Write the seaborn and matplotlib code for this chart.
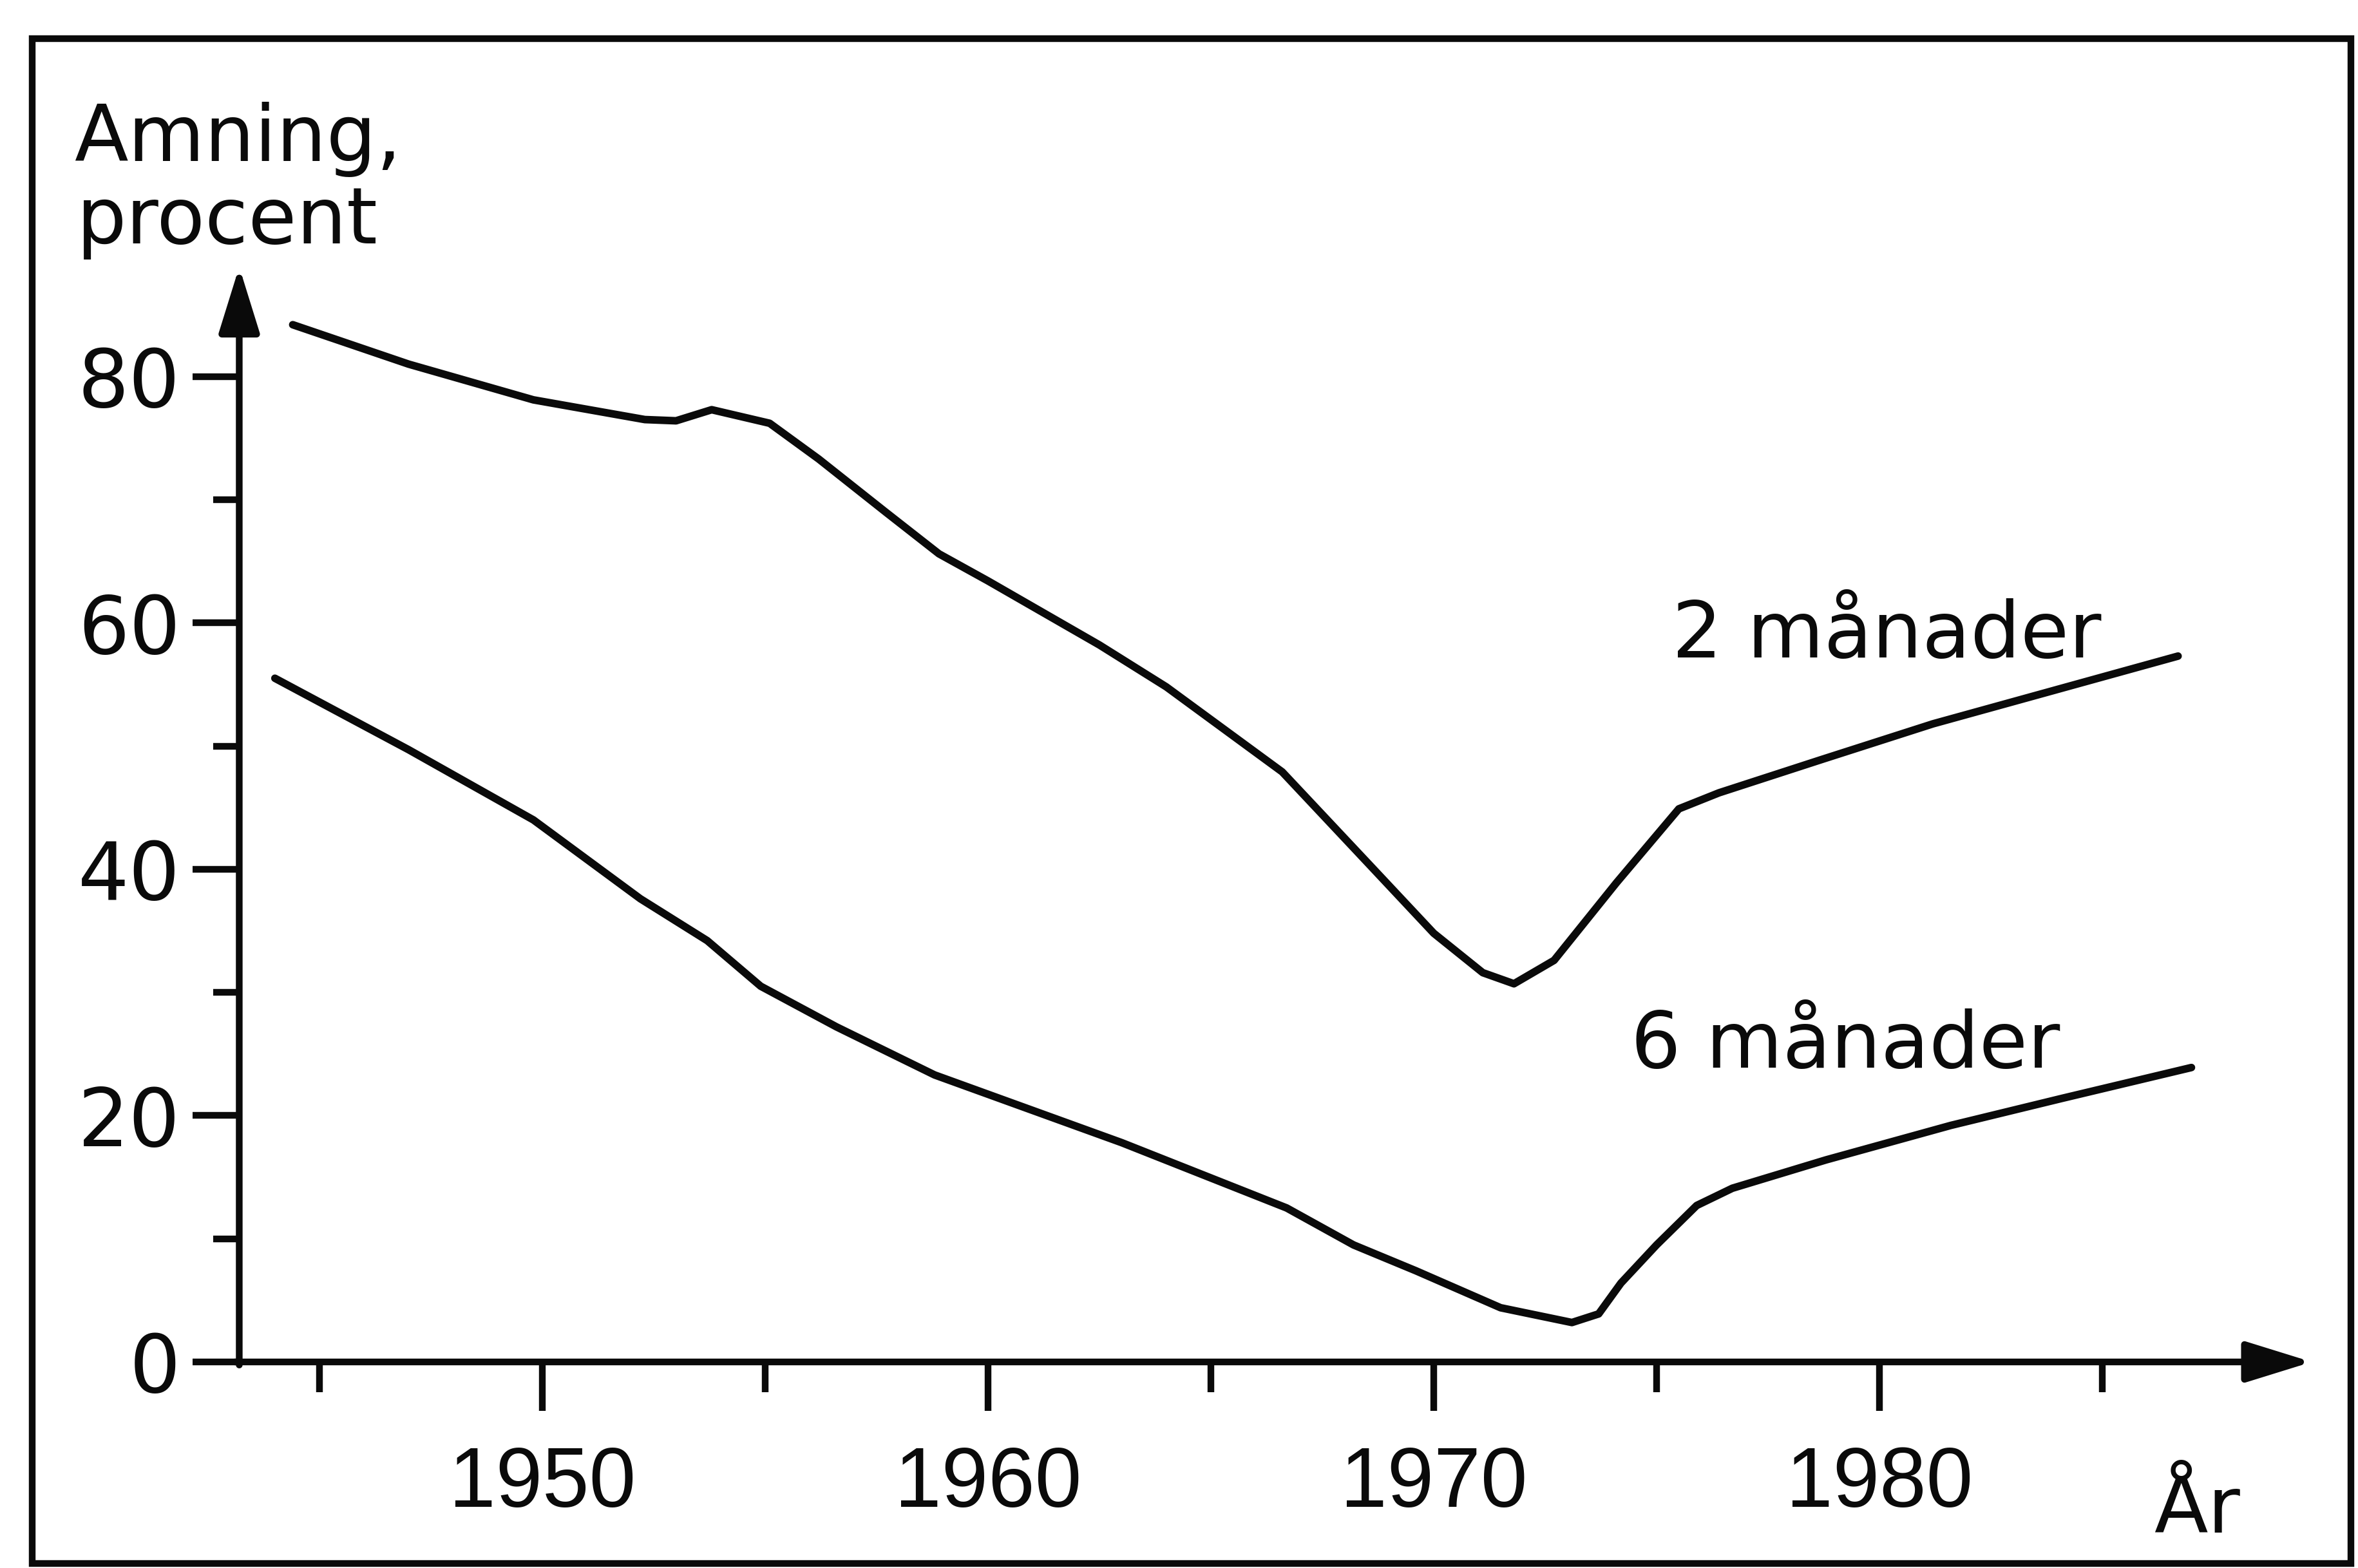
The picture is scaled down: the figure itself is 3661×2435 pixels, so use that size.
import matplotlib
matplotlib.use("Agg")
import matplotlib.pyplot as plt
import seaborn as sns
import pandas as pd
from matplotlib.patches import Rectangle

# ---------------- data ----------------
years_2m = [1944.4, 1947.0, 1949.8, 1952.3, 1953.0, 1953.8, 1955.1, 1956.2, 1957.7,
            1958.9, 1960.0, 1962.5, 1964.0, 1966.6, 1968.6, 1970.0, 1971.1, 1971.8,
            1972.7, 1974.1, 1975.5, 1976.4, 1978.7, 1981.2, 1986.7]
values_2m = [84.2, 81.0, 78.1, 76.5, 76.4, 77.3, 76.2, 73.3, 69.0,
             65.6, 63.4, 58.2, 54.8, 47.9, 40.2, 34.8, 31.6, 30.7,
             32.6, 38.9, 44.9, 46.2, 48.9, 51.8, 57.3]

years_6m = [1944.0, 1947.0, 1949.8, 1952.2, 1953.7, 1954.9, 1956.6, 1958.8, 1963.0,
            1966.7, 1968.2, 1969.6, 1971.5, 1973.1, 1973.7, 1974.2, 1975.0, 1975.9,
            1976.7, 1978.8, 1981.6, 1984.1, 1987.0]
values_6m = [55.5, 49.7, 44.0, 37.6, 34.2, 30.5, 27.2, 23.3, 17.8,
             12.5, 9.5, 7.4, 4.4, 3.2, 3.9, 6.4, 9.5, 12.7,
             14.1, 16.4, 19.2, 21.4, 23.9]

x_major = [1950, 1960, 1970, 1980]
x_minor = [1945, 1955, 1965, 1975, 1985]
y_major = [0, 20, 40, 60, 80]
y_minor = [10, 30, 50, 70]
series_labels = ["2 månader", "6 månader"]
y_title = ["Amning,", "procent"]
x_title = "År"

# ---------------- style ----------------
sns.set_style("white")
plt.rcParams['font.family'] = ['DejaVu Sans']
INK = '#0a0a0a'

DPI = 100
W, H = 3661, 2435
fig = plt.figure(figsize=(W / DPI, H / DPI), dpi=DPI)
fig.patch.set_facecolor('white')

# axes geometry (pixels in the reference)
X0, X1 = 1943.2, 1990.5
Y0, Y1 = 0, 90
ppy = 69.2      # pixels per year
ppu = 19.13     # pixels per percent
left_px = 842 - (1950 - X0) * ppy
right_px = 842 + (X1 - 1950) * ppy
bottom_px = 2115
top_px = bottom_px - (Y1 - Y0) * ppu
ax = fig.add_axes([left_px / W, 1 - bottom_px / H,
                   (right_px - left_px) / W, (bottom_px - top_px) / H])
ax.set_facecolor('none')

df2 = pd.DataFrame({"År": years_2m, "procent": values_2m})
df6 = pd.DataFrame({"År": years_6m, "procent": values_6m})
line_kw = dict(color=INK, linewidth=8.5, sort=False, estimator=None,
               solid_capstyle='round', solid_joinstyle='round')
sns.lineplot(data=df2, x="År", y="procent", ax=ax, **line_kw)
sns.lineplot(data=df6, x="År", y="procent", ax=ax, **line_kw)

ax.set_xlim(X0, X1)
ax.set_ylim(Y0, Y1)
ax.set_xlabel("")
ax.set_ylabel("")
for s in ax.spines.values():
    s.set_visible(False)

# axis arrows
arrow_kw = dict(arrowstyle='-|>,head_length=0.87,head_width=0.27',
                mutation_scale=72, lw=7.5, color=INK, shrinkA=0, shrinkB=0)
ax.annotate('', xy=(1989.7, 0), xytext=(X0 - 0.1, 0), arrowprops=arrow_kw,
            annotation_clip=False)
ax.annotate('', xy=(X0, 88.9), xytext=(X0, -0.25), arrowprops=arrow_kw,
            annotation_clip=False)

# ticks
ax.set_xticks(x_major)
ax.set_xticklabels([str(v) for v in x_major])
ax.set_xticks(x_minor, minor=True)
ax.set_yticks(y_major)
ax.set_yticklabels([str(v) for v in y_major])
ax.set_yticks(y_minor, minor=True)
ax.tick_params(axis='both', which='both', bottom=True, left=True, top=False,
               right=False, direction='out', width=7.5, color=INK, labelcolor=INK)
ax.tick_params(axis='x', which='major', length=55, pad=38, labelsize=94)
ax.tick_params(axis='x', which='minor', length=34)
ax.tick_params(axis='y', which='major', length=52, pad=14, labelsize=90)
ax.tick_params(axis='y', which='minor', length=29)
for lab in ax.get_xticklabels():
    lab.set_fontfamily('Liberation Sans')
for lab in ax.get_yticklabels():
    lab.set_fontfamily('DejaVu Sans')

# texts
txt_kw = dict(fontsize=88, color=INK, ha='left', va='baseline', clip_on=False)
ax.text(1939.5, 97.5, y_title[0], **txt_kw)
ax.text(1939.55, 90.8, y_title[1], **txt_kw)
ax.text(1975.35, 57.2, series_labels[0], **txt_kw)
ax.text(1974.42, 23.9, series_labels[1], **txt_kw)
ax.text(1986.16, -13.85, x_title, **txt_kw)

# outer frame
fig.patches.append(Rectangle((50 / W, 7 / H), 3600 / W, 2368 / H,
                             transform=fig.transFigure, fill=False,
                             lw=7.5, ec=INK))

fig.savefig('out.png', dpi=DPI, facecolor='white')
